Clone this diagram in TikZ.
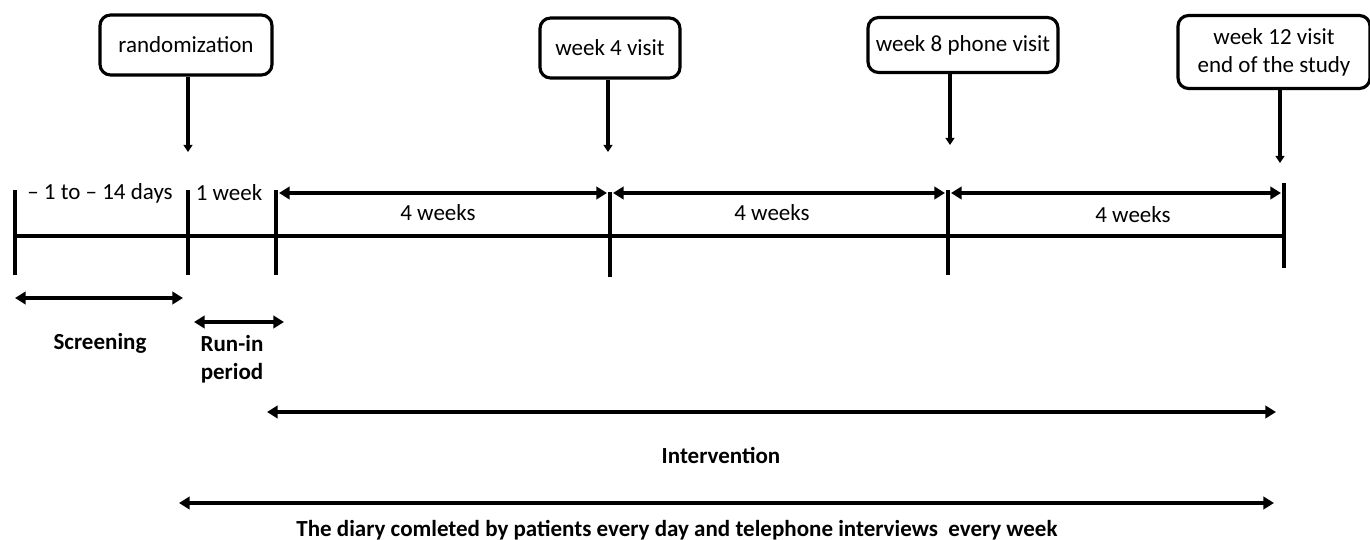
\documentclass[tikz,border=0pt]{standalone}
\usepackage{fontspec}
\setmainfont{Carlito}
\usetikzlibrary{arrows.meta}
\newcommand\tlfont{\fontsize{13.1pt}{15.9pt}\selectfont}
\begin{document}
\begin{tikzpicture}[x=0.02cm,y=-0.02cm,font=\tlfont,
    >={Triangle[length=6pt,width=7pt]},
    visit/.style={draw,line width=1.8pt,rounded corners=6pt,align=center,inner sep=0pt},
    span/.style={<->,line width=2pt},
    lbl/.style={font=\tlfont\bfseries,align=center}]
  \useasboundingbox (0,0) rectangle (1370,540);

  % visits
  \node[visit,minimum width=3.44cm,minimum height=1.2cm] (rand) at (186,45) {randomization};
  \node[visit,minimum width=2.8cm,minimum height=1.2cm] (w4) at (610,48) {week 4 visit};
  \node[visit,minimum width=3.8cm,minimum height=1.1cm] (w8) at (963,45) {week 8 phone visit};
  \node[visit,minimum width=3.84cm,minimum height=1.46cm] (w12) at (1274,52) {week 12 visit\\end of the study};

  \coordinate (a0) at (188,152);
  \coordinate (a1) at (608,152);
  \coordinate (a2) at (950,145);
  \coordinate (a3) at (1280,163);
  \draw[-{Triangle[length=4pt,width=5pt]},line width=1.8pt] (rand.south -| a0) -- (a0);
  \draw[-{Triangle[length=4pt,width=5pt]},line width=1.8pt] (w4.south -| a1) -- (a1);
  \draw[-{Triangle[length=4pt,width=5pt]},line width=1.8pt] (w8.south -| a2) -- (a2);
  \draw[-{Triangle[length=4pt,width=5pt]},line width=1.8pt] (w12.south -| a3) -- (a3);

  % timeline
  \draw[line width=2.8pt] (15,236) -- (1284,236);
  \draw[line width=2.2pt] (15,190) -- (15,275) (188,190) -- (188,275) (276,190) -- (276,275)
    (610,192) -- (610,277) (948,190) -- (948,275) (1284,183) -- (1284,268);

  \draw[span] (279,193) -- (607,193);
  \draw[span] (613,193) -- (945,193);
  \draw[span] (951,193) -- (1281,193);

  \node (pre) at (100,193) {-- 1 to -- 14 days};
  \node (run) at (229,193) {1 week};
  \node (p1) at (438,213) {4 weeks};
  \node (p2) at (772,213) {4 weeks};
  \node (p3) at (1133,215) {4 weeks};

  % periods
  \draw[span] (15,298) -- (183,298);
  \draw[span] (194,322) -- (284,322);
  \node[lbl] (scr) at (100,343) {Screening};
  \node[lbl] (runin) at (232,359) {Run-in\\period};

  \draw[span] (267,412) -- (1276,412);
  \node[lbl] (int) at (721,455) {Intervention};

  \draw[span] (179,503) -- (1274,503);
  \node[lbl] (diary) at (677,530) {The diary comleted by patients every day and telephone interviews\ \ every week};
\end{tikzpicture}
\end{document}
